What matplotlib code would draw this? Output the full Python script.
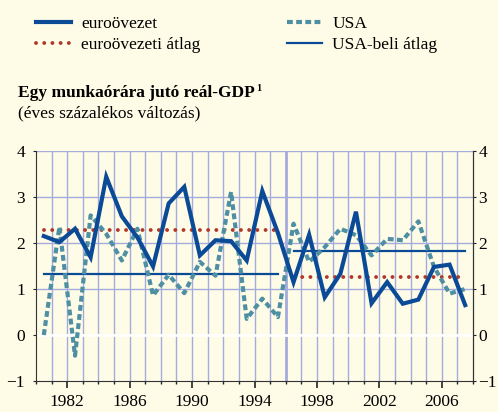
import matplotlib
matplotlib.use("Agg")
import matplotlib.pyplot as plt
import numpy as np

# adatok (éves százalékos változás)
years = np.arange(1980, 2008)
euro = [2.15, 2.02, 2.31, 1.69, 3.44, 2.58, 2.12, 1.49,
        2.86, 3.22, 1.73, 2.06, 2.04, 1.62, 3.13, 2.22,
        1.15, 2.18, 0.82, 1.33, 2.68, 0.69, 1.15, 0.68,
        0.77, 1.48, 1.53, 0.65]
usa = [0.0, 2.35, -0.45, 2.6, 2.2, 1.62, 2.31, 0.86,
       1.31, 0.91, 1.59, 1.29, 3.11, 0.35, 0.79, 0.39,
       2.42, 1.59, 1.91, 2.31, 2.17, 1.73, 2.09, 2.06,
       2.47, 1.48, 0.9, 1.0]
periods = [(1980, 1995), (1996, 2007)]
euro_avg = [2.29, 1.26]
usa_avg = [1.32, 1.82]
ylabels = ["\u22121", "0", "1", "2", "3", "4"]

W, H = 498, 412
bg = "#fefce6"
c_euro = "#0b4a97"
c_usa = "#4e8fa3"
c_red = "#b0372a"
c_grid = "#a3acdc"

plt.rcParams["font.family"] = ["Liberation Serif", "DejaVu Serif"]
fig = plt.figure(figsize=(W / 100, H / 100), dpi=100, facecolor=bg)
ax = fig.add_axes([36 / W, 31 / H, (473 - 36) / W, (261 - 31) / H])
ax.set_facecolor(bg)

x = years + 0.5

# rács
for yr in range(1981, 2008):
    ax.axvline(yr, color=c_grid, lw=2.0 if yr == 1996 else 1.0, zorder=1)
for v in [1, 2, 3, 4]:
    ax.axhline(v, color=c_grid, lw=1.0, zorder=1)
ax.axhline(0, color="white", lw=2.0, zorder=2)

# átlagok
for (a, b), ea, ua in zip(periods, euro_avg, usa_avg):
    h_ea, = ax.plot([a + 0.5, b + 0.5], [ea, ea], color=c_red, lw=2.8,
                    linestyle=(0, (0.01, 2.1)), dash_capstyle="round", zorder=3)
    h_ua, = ax.plot([a + 0.5, b + 0.5], [ua, ua], color=c_euro, lw=1.6, zorder=3)

h_usa, = ax.plot(x, usa, color=c_usa, lw=3.0, linestyle=(0, (1.4, 0.8)), zorder=4)
h_eu, = ax.plot(x, euro, color=c_euro, lw=3.0, solid_joinstyle="miter", zorder=5)

ax.set_xlim(1980, 2008)
ax.set_ylim(-1, 4)
ax.set_xticks(range(1982, 2008, 4))
ax.set_xticks(range(1980, 2009), minor=True)
ax.set_yticks(range(-1, 5))
ax.set_yticklabels(ylabels)
ax.tick_params(axis="x", which="major", length=5, width=1.2, color="#222222",
               labelsize=12.5, pad=4)
ax.tick_params(axis="x", which="minor", length=2.5, width=1.0, color="#222222")
ax.tick_params(axis="y", length=2, width=0.8, color="#222222", labelsize=12.5, pad=6)
for s in ["left", "right", "bottom"]:
    ax.spines[s].set_color("#333333")
    ax.spines[s].set_linewidth(0.8)
ax.spines["top"].set_visible(False)

# jobb oldali tengely
ax2 = ax.twinx()
ax2.set_ylim(-1, 4)
ax2.set_yticks(range(-1, 5))
ax2.set_yticklabels(ylabels)
ax2.tick_params(axis="y", length=2, width=0.8, color="#222222", labelsize=12.5, pad=2)
for s in ["left", "top", "bottom"]:
    ax2.spines[s].set_visible(False)
ax2.spines["right"].set_color("#333333")
ax2.spines["right"].set_linewidth(0.8)

# jelmagyarázat
leg_kw = dict(frameon=False, fontsize=12.5, handlelength=2.0, handletextpad=0.6,
              labelspacing=0.25, borderaxespad=0, borderpad=0)
leg1 = fig.legend([h_eu, h_ea], ["euroövezet", "euroövezeti átlag"],
                  loc="upper left", bbox_to_anchor=(36 / W, 1 - 16 / H), **leg_kw)
leg2 = fig.legend([h_usa, h_ua], ["USA", "USA-beli átlag"],
                  loc="upper left", bbox_to_anchor=(287 / W, 1 - 16 / H), **leg_kw)

t = fig.text(18 / W, 1 - 97 / H, "Egy munkaórára jutó reál-GDP", fontsize=12.5,
             fontweight="bold", va="baseline")
fig.canvas.draw()
bb = t.get_window_extent()
fig.text((bb.x1 + 1) / W, 1 - 91 / H, "1", fontsize=7.5, fontweight="bold",
         va="baseline")
fig.text(18 / W, 1 - 117 / H, "(éves százalékos változás)", fontsize=12.5,
         va="baseline")

fig.savefig("out.png", dpi=100, facecolor=bg)
